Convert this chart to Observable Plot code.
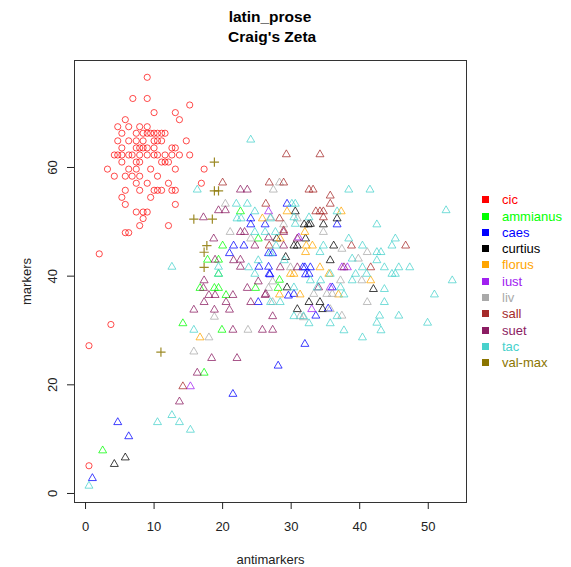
<!DOCTYPE html>
<html><head><meta charset="utf-8">
<script src="https://cdn.jsdelivr.net/npm/d3@7"></script>
<script src="https://cdn.jsdelivr.net/npm/@observablehq/plot@0.6"></script>
<style>
body{margin:0;background:#fff;font-family:"Liberation Sans",Arial,Helvetica,sans-serif;}
#wrap{position:relative;width:571px;height:567px;overflow:hidden;}
.ttl{position:absolute;left:0;width:540px;text-align:center;font-weight:bold;font-size:15.5px;color:#000;line-height:20px;}
#chart{position:absolute;left:0;top:50px;}
.lg{position:absolute;left:482px;font-size:13px;line-height:16px;white-space:nowrap;}
.lg span.sw{display:inline-block;width:7px;height:7px;margin-right:13px;vertical-align:1px;}
</style></head>
<body><div id="wrap">
<div class="ttl" style="top:7px">latin_prose</div>
<div class="ttl" style="top:27px">&nbsp;Craig's Zeta</div>
<div id="chart"></div>
<div id="legend"></div>
</div>
<script>
const authors = ["cic","ammianus","caes","curtius","florus","iust","liv","sall","suet","tac","val-max"];
const colors = ["#FF0000","#00FF00","#0000FF","#000000","#FFA500","#A020F0","#A9A9A9","#A52A2A","#8B1C62","#48D1CC","#8B7500"];
const xTicks = [0,10,20,30,40,50];
const yTicks = [0,20,40,60];

const cic = [[9.0,76.6],[6.9,72.7],[9.0,72.7],[15.2,71.5],[10.0,70.1],[13.1,70.1],[5.8,68.8],[13.7,68.8],
[4.7,67.5],[6.3,67.5],[7.9,67.5],[9.0,67.5],
[5.3,66.3],[7.4,66.3],[8.4,66.3],[9.0,66.3],[9.5,66.3],[10.0,66.3],[10.5,66.3],[11.1,66.3],[11.6,66.3],
[4.7,64.9],[6.3,64.9],[7.4,64.9],[8.4,64.9],[10.0,64.9],[10.5,64.9],[11.1,64.9],[14.7,64.9],
[5.3,63.6],[7.4,63.6],[7.9,63.6],[8.4,63.6],[9.0,63.6],[10.0,63.6],[12.6,63.6],[13.1,63.6],
[4.2,62.3],[4.7,62.3],[5.3,62.3],[6.3,62.3],[6.8,62.3],[7.9,62.3],[9.0,62.3],[10.0,62.3],[10.5,62.3],[11.6,62.3],[12.6,62.3],[13.7,62.3],[15.2,62.3],
[5.3,61.0],[7.4,61.0],[7.9,61.0],[11.1,61.0],[11.6,61.0],[12.1,61.0],
[3.2,59.7],[6.3,59.7],[7.4,59.7],[9.5,59.7],[13.1,59.7],[17.3,59.7],
[4.2,58.4],[5.8,58.4],[6.8,58.4],[7.9,58.4],[10.5,58.4],
[7.4,57.1],[9.0,57.1],[12.1,57.1],[16.9,57.1],
[5.8,55.8],[7.9,55.8],[10.0,55.8],[10.5,55.8],[11.1,55.8],[12.6,55.8],[13.1,55.8],
[5.3,54.5],[9.5,54.5],[5.8,53.2],[13.1,53.2],
[7.4,51.8],[8.4,51.8],[9.0,51.8],[8.4,50.6],[7.9,49.3],[12.1,49.3],[5.8,48.0],[6.3,48.0],
[2.0,44.1],[3.7,31.1],[0.5,27.2],[0.5,5.1]];

const ammianus = [[2.5,7.9],[14.2,31.3],[17.3,22.2],[19.9,30.1],[16.7,37.8],[18.8,37.8],[19.4,37.8],[20.5,36.5],
[17.8,43.0],[19.4,43.0],[19.4,40.4],[24.8,37.8],[28.1,37.8],[22.6,51.9],[25.2,46.9],[20.0,45.6],[28.3,39.3]];

const caes = [[4.7,13.1],[6.3,10.5],[1.0,2.8],[21.5,18.3],[28.1,23.5],[32.0,27.5],[25.2,35.2],[26.8,40.4],
[25.3,41.7],[26.7,41.7],[21.0,44.2],[26.7,44.2],[27.3,44.2],[29.4,53.3],[24.1,50.6],[24.1,49.5],[26.2,49.5],
[36.7,49.5],[21.6,45.6],[23.1,45.6],[32.0,41.6],[32.6,40.4],[31.7,41.6],[32.8,41.6],[29.6,36.4],[33.6,32.7],
[35.4,34.0],[36.0,37.9],[26.9,40.3],[32.1,40.3],[30.4,36.7]];

const curtius = [[4.2,5.4],[5.8,6.6],[30.6,51.9],[31.9,49.5],[32.5,49.5],[32.8,49.6],[34.7,49.5],[36.7,50.6],[27.9,46.9],
[32.1,46.9],[30.4,45.6],[30.9,45.6],[36.2,45.6],[29.4,37.9],[30.9,33.9],[34.6,33.9],[32.6,35.2],[34.2,35.2],
[42.0,37.6],[35.7,42.9],[29.2,43.5]];

const florus = [[16.7,28.7],[29.4,51.9],[37.3,51.9],[25.8,50.6],[32.0,48.1],[28.4,46.9],[32.2,45.6],[33.1,45.6],
[29.9,40.4],[30.4,40.4],[28.3,36.6],[31.3,36.6],[36.9,36.6],[35.5,40.4],[32.1,44.4],[41.6,39.2],[34.2,41.6]];

const iust = [[15.3,19.7],[26.7,51.9],[33.0,33.9],[35.7,37.9],[37.4,41.6],[38.2,41.6],[31.1,47.1]];

const liv = [[18.8,32.5],[18.0,28.7],[15.8,26.1],[23.7,30.1],[27.3,35.2],[27.3,39.0],[20.4,53.3],[27.4,55.9],
[28.3,57.2],[30.9,50.6],[28.9,49.5],[21.1,48.1],[34.7,48.1],[24.1,46.9],[31.3,32.6],[35.7,33.9],[37.2,39.2],
[33.3,36.7],[26.7,37.8],[27.0,50.8],[41.1,44.4],[40.3,39.2],[41.1,35.2],[31.8,32.4],[37.4,32.7],[35.2,36.7],
[36.0,36.7],[29.9,41.6],[37.4,45.0],[39.8,43.2]];

const sall = [[29.3,62.4],[34.2,62.4],[20.0,57.2],[26.8,57.2],[28.9,57.2],[32.6,55.9],[33.2,55.9],[35.7,54.8],
[35.7,53.3],[26.3,53.3],[33.6,51.9],[34.2,51.9],[34.7,51.9],[28.3,50.6],[26.8,45.6],[38.8,45.6],[34.7,50.8],
[28.9,48.4],[46.7,45.6],[41.6,41.6],[14.2,19.7]];

const suet = [[17.3,39.2],[18.0,36.5],[18.9,36.5],[17.3,35.2],[15.8,33.8],[18.8,33.8],[20.5,35.2],[21.0,33.8],
[21.5,36.5],[23.6,37.8],[24.1,35.2],[26.2,36.5],[27.3,32.6],[21.5,30.1],[25.8,30.1],[27.3,30.1],[18.4,24.9],
[22.1,24.9],[16.3,22.2],[13.7,16.9],[18.9,43.0],[22.6,43.0],[22.6,41.7],[25.2,39.0],[17.2,37.8],[19.4,52.1],
[20.4,52.1],[17.2,50.8],[22.6,48.1],[23.2,48.1],[18.7,46.9],[24.7,45.6],[28.9,45.6],[28.9,48.1],[30.9,46.9],
[21.6,42.9],[30.9,41.6],[26.3,36.7],[22.6,55.9],[23.6,55.9],[26.7,47.1],[28.4,41.6],[34.0,37.9],[37.7,41.6]];

const tac = [[0.5,1.4],[12.6,41.7],[15.8,30.1],[10.5,13.1],[12.6,14.4],[13.7,13.1],[15.3,11.7],[19.4,41.7],
[24.7,40.4],[24.1,65.1],[16.3,55.9],[22.0,53.3],[23.6,53.3],[30.1,53.3],[30.6,53.3],[38.4,55.9],[24.7,51.9],
[36.7,51.9],[22.1,50.6],[22.7,50.6],[27.0,50.6],[24.7,48.1],[26.2,48.1],[27.7,48.1],[27.8,45.6],[34.7,45.6],
[38.4,46.9],[19.4,40.4],[25.2,42.9],[27.0,44.2],[29.0,42.9],[23.8,41.6],[32.8,39.2],[34.3,39.2],[37.2,37.9],
[38.9,39.2],[37.7,36.6],[30.4,37.9],[27.0,35.2],[28.4,35.2],[30.4,32.6],[31.8,32.6],[32.6,31.3],[35.7,31.3],
[36.7,32.6],[37.7,30.0],[41.5,55.9],[52.6,52.1],[42.5,49.5],[45.2,46.9],[40.4,45.6],[44.7,45.6],[42.5,44.4],
[43.1,44.4],[38.9,43.2],[40.4,41.6],[43.6,41.6],[45.7,41.6],[47.3,41.6],[39.4,40.4],[41.0,40.4],[44.7,40.4],
[45.2,40.4],[53.5,39.2],[42.5,42.9],[43.6,37.6],[50.9,36.6],[43.6,35.2],[45.7,32.7],[49.9,31.4],[42.9,32.7],
[42.5,31.4],[43.1,30.0],[40.4,28.7],[32.6,50.8],[30.4,50.8],[30.6,49.6],[34.2,44.4],[35.7,40.4],[33.8,37.9]];

const valMax = [[18.8,61.0],[18.8,55.7],[19.4,55.7],[15.8,50.5],[18.5,50.5],[17.7,45.6],[17.3,44.4],[17.3,41.6],[11.0,26.0]];

const series = {cic, ammianus, caes, curtius, florus, iust, liv, sall, suet, tac, "val-max": valMax};
const rows = [];
authors.forEach((a, i) => series[a].forEach(([x, y]) => rows.push({author: a, x, y, color: colors[i]})));

const circles = rows.filter(d => d.author === "cic");
const tris = rows.filter(d => d.author !== "cic" && d.author !== "val-max");
const pluses = rows.filter(d => d.author === "val-max");

const chart = Plot.plot({
  width: 571, height: 517,
  marginLeft: 74, marginRight: 105, marginTop: 10, marginBottom: 65,
  style: {fontFamily: '"Liberation Sans", Arial, sans-serif', fontSize: "13px", color: "#222", background: "#fff"},
  x: {domain: [-1.61, 55.58]},
  y: {domain: [-1.66, 79.69]},
  marks: [
    Plot.frame({stroke: "#333"}),
    Plot.axisX({ticks: xTicks, tickSize: 7, tickPadding: 12, fontSize: 13, label: "antimarkers",
      labelAnchor: "center", labelArrow: "none", labelOffset: 61}),
    Plot.axisY({ticks: yTicks, tickSize: 7, tickPadding: 11, fontSize: 13, tickRotate: -90, label: "markers",
      labelAnchor: "center", labelArrow: "none", labelOffset: 53}),
    Plot.dot(circles, {x: "x", y: "y", r: 3.1, symbol: "circle", stroke: "color", strokeOpacity: 0.7, strokeWidth: 1}),
    Plot.dot(tris, {x: "x", y: "y", r: 3.8, symbol: "triangle2", stroke: "color", strokeOpacity: 0.75, strokeWidth: 1}),
    Plot.dot(pluses, {x: "x", y: "y", r: 3.1, symbol: "plus", stroke: "color", strokeOpacity: 0.85, strokeWidth: 1.2})
  ]
});
document.getElementById("chart").appendChild(chart);

const lg = document.getElementById("legend");
authors.forEach((a, i) => {
  const row = document.createElement("div");
  row.className = "lg";
  row.style.top = (281.7 + (i - 5) * 16.3 - 8) + "px";
  row.style.color = colors[i];
  row.innerHTML = `<span class="sw" style="background:${colors[i]}"></span>${a}`;
  lg.appendChild(row);
});
</script>
</body></html>
